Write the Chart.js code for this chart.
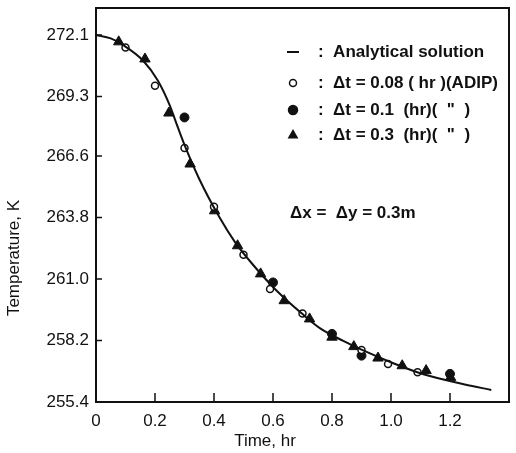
<!DOCTYPE html>
<html>
<head>
<meta charset="utf-8">
<script src="https://cdn.jsdelivr.net/npm/chart.js@4.4.0/dist/chart.umd.min.js"></script>
<style>
  html, body { margin: 0; padding: 0; background: #fff; }
  #wrap { width: 516px; height: 453px; position: relative; }
</style>
</head>
<body>
<div id="wrap"><canvas id="tempChart"></canvas></div>
<script>
// analytical solution (solid curve)
const curveTime = [0, 0.05, 0.09, 0.16, 0.21, 0.25, 0.27, 0.30, 0.35, 0.42, 0.47, 0.53, 0.61, 0.70, 0.76, 0.84, 0.90, 1.01, 1.11, 1.25, 1.34];
const curveTemp = [272.1, 271.95, 271.66, 270.93, 270.02, 268.9, 268.17, 267.1, 265.55, 263.77, 262.7, 261.68, 260.5, 259.4, 258.75, 258.17, 257.78, 257.15, 256.66, 256.2, 255.95];

// dt = 0.08 hr (ADIP), open circles
const openTime = [0.10, 0.20, 0.30, 0.40, 0.50, 0.59, 0.70, 0.90, 0.99, 1.09];
const openTemp = [271.53, 269.79, 266.96, 264.29, 262.10, 260.54, 259.43, 257.77, 257.13, 256.75];

// dt = 0.1 hr, filled circles
const fillTime = [0.30, 0.60, 0.80, 0.90, 1.20];
const fillTemp = [268.35, 260.84, 258.5, 257.51, 256.68];

// dt = 0.3 hr, triangles
const triTime = [0.077, 0.166, 0.247, 0.319, 0.402, 0.48, 0.558, 0.638, 0.724, 0.80, 0.874, 0.956, 1.038, 1.119, 1.202];
const triTemp = [271.79, 271.01, 268.55, 266.23, 264.10, 262.51, 261.23, 260.01, 259.18, 258.35, 257.92, 257.40, 257.05, 256.83, 256.52];

const xTicks = [0, 0.2, 0.4, 0.6, 0.8, 1.0, 1.2];
const yTicks = [255.4, 258.2, 261.0, 263.8, 266.6, 269.3, 272.1];

const ink = '#111';
const pts = (xs, ys) => xs.map((x, i) => ({ x: x, y: ys[i] }));

const frameAndLabels = {
    id: 'frameAndLabels',
    afterDraw(chart) {
        const { ctx, chartArea: a, scales } = chart;
        ctx.save();
        ctx.strokeStyle = ink;
        ctx.fillStyle = ink;

        // box
        ctx.lineWidth = 2;
        ctx.strokeRect(a.left, a.top, a.right - a.left, a.bottom - a.top);

        // inward ticks
        ctx.lineWidth = 1.5;
        ctx.beginPath();
        yTicks.forEach(v => {
            const p = scales.y.getPixelForValue(v);
            ctx.moveTo(a.left, p); ctx.lineTo(a.left + 6, p);
        });
        xTicks.forEach(v => {
            const p = scales.x.getPixelForValue(v);
            ctx.moveTo(p, a.bottom); ctx.lineTo(p, a.bottom - 9);
        });
        ctx.stroke();

        // axis titles
        ctx.font = '17px "Liberation Sans", Arial, sans-serif';
        ctx.textAlign = 'center';
        ctx.textBaseline = 'middle';
        ctx.fillText('Time, hr', 265, 441);
        ctx.save();
        ctx.translate(14, 258);
        ctx.rotate(-Math.PI / 2);
        ctx.fillText('Temperature, K', 0, 0);
        ctx.restore();

        // legend
        const rows = [52, 83, 110, 135];
        const symX = 293;
        ctx.font = 'bold 17px "Liberation Sans", Arial, sans-serif';
        ctx.textAlign = 'left';
        chart.data.datasets.forEach((ds, i) => {
            const y = rows[i];
            ctx.lineWidth = 1.5;
            if (i === 0) {
                ctx.lineWidth = 2;
                ctx.beginPath(); ctx.moveTo(symX - 6, y); ctx.lineTo(symX + 6, y); ctx.stroke();
            } else if (ds.pointStyle === 'triangle') {
                const r = ds.pointRadius;
                ctx.beginPath();
                ctx.moveTo(symX, y - r);
                ctx.lineTo(symX + r * 0.9, y + r * 0.6);
                ctx.lineTo(symX - r * 0.9, y + r * 0.6);
                ctx.closePath(); ctx.fill();
            } else {
                ctx.beginPath();
                ctx.arc(symX, y, ds.pointRadius, 0, Math.PI * 2);
                ctx.fillStyle = ds.backgroundColor;
                ctx.fill();
                ctx.stroke();
                ctx.fillStyle = ink;
            }
            ctx.fillText(':  ' + ds.label, 318, y);
        });
        ctx.fillText('Δx =  Δy = 0.3m', 290, 213);
        ctx.restore();
    }
};

new Chart(document.getElementById('tempChart').getContext('2d'), {
    type: 'scatter',
    data: {
        datasets: [
            {
                label: 'Analytical solution',
                data: pts(curveTime, curveTemp),
                showLine: true,
                borderColor: ink,
                borderWidth: 2,
                pointRadius: 0,
                cubicInterpolationMode: 'monotone'
            },
            {
                label: 'Δt = 0.08 ( hr )(ADIP)',
                data: pts(openTime, openTemp),
                pointStyle: 'circle',
                pointRadius: 3.5,
                backgroundColor: '#fff',
                borderColor: ink,
                borderWidth: 1.5
            },
            {
                label: 'Δt = 0.1  (hr)(  "  )',
                data: pts(fillTime, fillTemp),
                pointStyle: 'circle',
                pointRadius: 4.5,
                backgroundColor: ink,
                borderColor: ink,
                borderWidth: 1
            },
            {
                label: 'Δt = 0.3  (hr)(  "  )',
                data: pts(triTime, triTemp),
                pointStyle: 'triangle',
                pointRadius: 6,
                backgroundColor: ink,
                borderColor: ink,
                borderWidth: 1
            }
        ]
    },
    options: {
        responsive: true,
        maintainAspectRatio: false,
        animation: false,
        layout: { padding: { top: 8, right: 1, left: 0, bottom: 0 } },
        plugins: { legend: { display: false }, tooltip: { enabled: false } },
        scales: {
            x: {
                type: 'linear',
                min: 0,
                max: 1.4,
                grid: { display: false, drawTicks: false },
                border: { display: false },
                afterBuildTicks: s => { s.ticks = xTicks.map(v => ({ value: v })); },
                afterFit: s => { s.height = 51; s.paddingLeft = 0; s.paddingRight = 0; },
                ticks: {
                    color: ink,
                    padding: 9,
                    maxRotation: 0,
                    font: { family: '"Liberation Sans", Arial, sans-serif', size: 17 },
                    callback: v => (v === 0 ? '0' : v.toFixed(1))
                }
            },
            y: {
                type: 'linear',
                min: 255.4,
                max: 273.33,
                grid: { display: false, drawTicks: false },
                border: { display: false },
                afterBuildTicks: s => { s.ticks = yTicks.map(v => ({ value: v })); },
                afterFit: s => { s.width = 96; s.paddingTop = 0; s.paddingBottom = 0; },
                ticks: {
                    color: ink,
                    padding: 7,
                    font: { family: '"Liberation Sans", Arial, sans-serif', size: 17 },
                    callback: v => v.toFixed(1)
                }
            }
        }
    },
    plugins: [frameAndLabels]
});
</script>
</body>
</html>
